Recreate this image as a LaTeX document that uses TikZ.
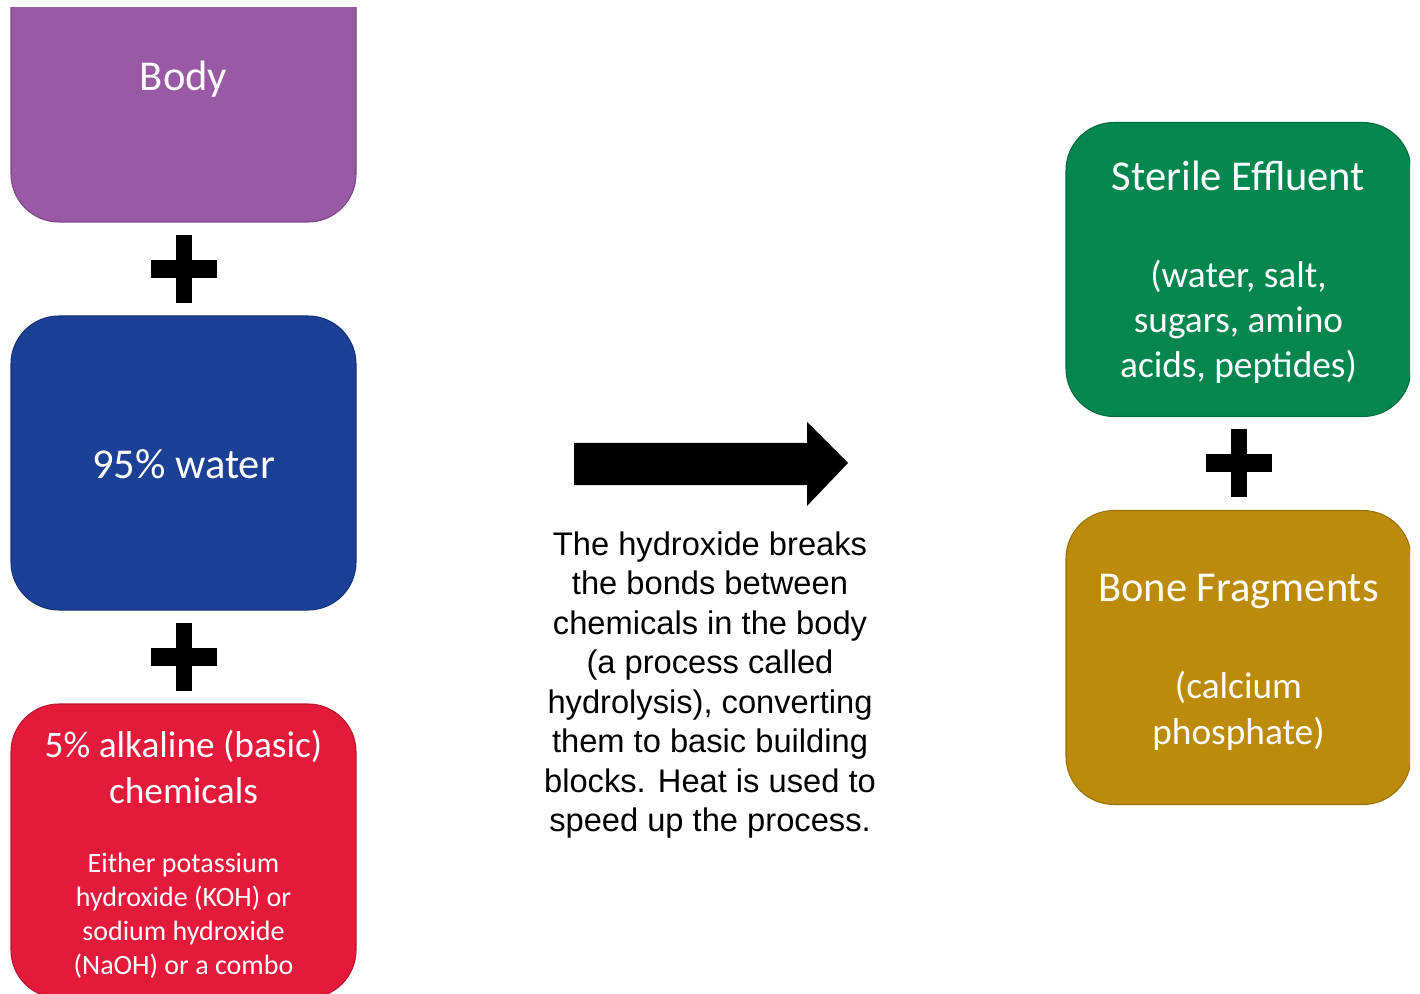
\documentclass[tikz,border=0pt]{standalone}
\usepackage{fontspec}
\newfontfamily\carlito{Carlito}
\newfontfamily\arialfont{Liberation Sans}
\definecolor{cpurple}{HTML}{9A59A4}
\definecolor{cpurpleb}{HTML}{7D4587}
\definecolor{cblue}{HTML}{1B4095}
\definecolor{cblueb}{HTML}{15317A}
\definecolor{cred}{HTML}{E41A3A}
\definecolor{credb}{HTML}{B8142E}
\definecolor{cgreen}{HTML}{03874F}
\definecolor{cgreenb}{HTML}{026B3E}
\definecolor{cgold}{HTML}{BC8B0B}
\definecolor{cgoldb}{HTML}{977008}
\tikzset{
  box/.style={rectangle, rounded corners=36pt, minimum width=258.75pt, minimum height=220.5pt,
    inner sep=0pt, line width=0.8pt},
  titletext/.style={text=white, align=center, inner sep=0pt, font=\carlito\fontsize{31.9pt}{34.1pt}\selectfont},
  redtitle/.style={text=white, align=center, inner sep=0pt, font=\carlito\fontsize{28pt}{34.5pt}\selectfont},
  subtext/.style={text=white, align=center, inner sep=0pt, font=\carlito\fontsize{28pt}{34pt}\selectfont},
  smalltext/.style={text=white, align=center, inner sep=0pt, font=\carlito\fontsize{21pt}{25.5pt}\selectfont},
  plusbar/.style={fill=black},
  blockarrow/.style={fill=black},
  midtext/.style={align=center, font=\arialfont\fontsize{24.5pt}{29.6pt}\selectfont, inner sep=0pt}
}
\begin{document}
\begin{tikzpicture}[x=0.75pt,y=-0.75pt]
\useasboundingbox (0,0) rectangle (1420,994);
\begin{scope}
\clip (0,8) rectangle (1410,994);
% left column boxes
\node[box, fill=cpurple, draw=cpurpleb] (body) at (183.5,75) {};
\node[box, fill=cblue, draw=cblueb] (water) at (183.5,463) {};
\node[box, fill=cred, draw=credb] (alk) at (183.5,851) {};
% right column boxes
\node[box, fill=cgreen, draw=cgreenb] (eff) at (1238.5,269.5) {};
\node[box, fill=cgold, draw=cgoldb] (bone) at (1238.5,657.5) {};
\end{scope}
% box texts
\node[titletext] (bodyt) at (183.5,79) {Body};
\node[titletext] (watert) at (183.5,464) {95\% water};
\node[redtitle] (alkt) at (183.5,767) {5\% alkaline (basic)\\chemicals};
\node[smalltext] (alks) at (183.5,916) {Either potassium\\hydroxide (KOH) or\\sodium hydroxide\\(NaOH) or a combo};
\node[titletext] (efft) at (1238.5,176) {Sterile Effluent};
\node[subtext] (effs) at (1238.5,322) {(water, salt,\\sugars, amino\\acids, peptides)};
\node[titletext] (bonet) at (1238.5,592) {Bone Fragments};
\node[subtext] (bones) at (1238.5,711) {(calcium\\phosphate)};
% plus signs
\foreach \n/\px/\py in {p1/184/269, p2/184/657, p3/1239/463}{
  \coordinate (\n) at (\px,\py);
  \fill[plusbar] ([xshift=-6pt,yshift=25.5pt]\n) rectangle ([xshift=6pt,yshift=-25.5pt]\n);
  \fill[plusbar] ([xshift=-25.1pt,yshift=6.4pt]\n) rectangle ([xshift=25.1pt,yshift=-6.4pt]\n);
}
% block arrow
\fill[blockarrow] (574,443) -- (807,443) -- (807,422) -- (848,463) -- (807,506) -- (807,485) -- (574,485) -- cycle;
% explanation text
\node[midtext] (expl) at (710,685)
  {The hydroxide breaks\\ the bonds between\\ chemicals in the body\\ (a process called\\ hydrolysis), converting\\ them to basic building\\ blocks. Heat is used to\\ speed up the process.};
\end{tikzpicture}
\end{document}
